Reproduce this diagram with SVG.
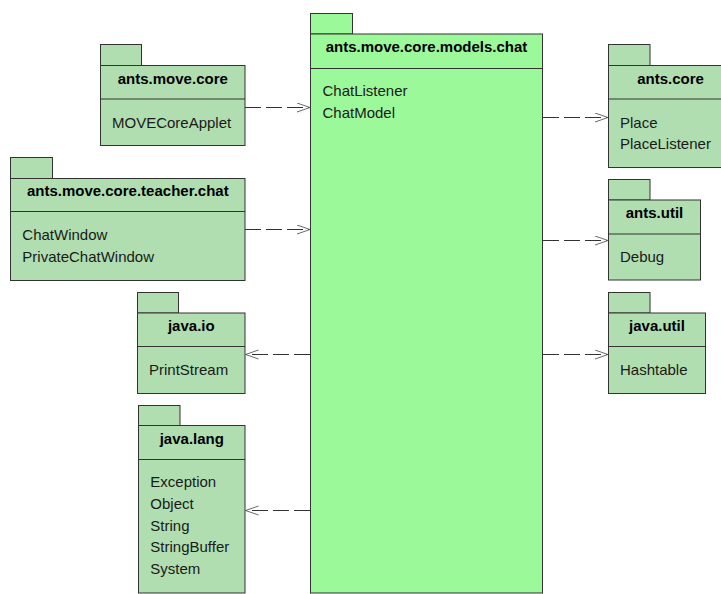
<svg xmlns="http://www.w3.org/2000/svg" width="721" height="594" viewBox="0 0 721 594">
  <style>
    .pkg { fill: #b0deb0; stroke: #333333; stroke-width: 1; }
    .main { fill: #9cf99a; stroke: #333333; stroke-width: 1; }
    .div { stroke: #333333; stroke-width: 1; fill: none; }
    .title { font-family: "Liberation Sans", Arial, sans-serif; font-size: 15px; font-weight: bold; fill: #000000; text-anchor: middle; }
    .item { font-family: "Liberation Sans", Arial, sans-serif; font-size: 15px; fill: #1a1a1a; }
    .dep { stroke: #333333; stroke-width: 1; fill: none; stroke-dasharray: 16 5; }
    .head { stroke: #6a6a6a; stroke-width: 1; fill: none; }
  </style>
  <defs>
    <marker id="open" markerWidth="16" markerHeight="12" refX="13" refY="5" orient="auto" markerUnits="userSpaceOnUse">
      <path class="head" d="M0,0.5 L13,5 L0,9.5"/>
    </marker>
  </defs>
  <rect width="721" height="594" fill="#ffffff"/>

  <!-- central package -->
  <g id="pkg-models-chat">
    <rect class="main" x="310.5" y="13.5" width="42" height="20.5"/>
    <rect class="main" x="310.5" y="34" width="232" height="559"/>
    <line class="div" x1="310.5" y1="68.5" x2="542.5" y2="68.5"/>
    <text class="title" x="426.5" y="52">ants.move.core.models.chat</text>
    <text class="item" x="322.5" y="96">ChatListener</text>
    <text class="item" x="322.5" y="117.7">ChatModel</text>
  </g>

  <g id="pkg-move-core">
    <rect class="pkg" x="100.5" y="44.5" width="41" height="21"/>
    <rect class="pkg" x="100.5" y="65.5" width="144.5" height="80"/>
    <line class="div" x1="100.5" y1="99" x2="245" y2="99"/>
    <text class="title" x="172.8" y="83.5">ants.move.core</text>
    <text class="item" x="112" y="127.7">MOVECoreApplet</text>
  </g>

  <g id="pkg-teacher-chat">
    <rect class="pkg" x="10.5" y="157.5" width="42" height="21"/>
    <rect class="pkg" x="10.5" y="178.5" width="234.5" height="102"/>
    <line class="div" x1="10.5" y1="211.5" x2="245" y2="211.5"/>
    <text class="title" x="127.8" y="196.3">ants.move.core.teacher.chat</text>
    <text class="item" x="22.3" y="240">ChatWindow</text>
    <text class="item" x="22.3" y="261.7">PrivateChatWindow</text>
  </g>

  <g id="pkg-java-io">
    <rect class="pkg" x="137.5" y="292.5" width="41" height="20.5"/>
    <rect class="pkg" x="137.5" y="313" width="107.5" height="80.5"/>
    <line class="div" x1="137.5" y1="346.5" x2="245" y2="346.5"/>
    <text class="title" x="191.3" y="331">java.io</text>
    <text class="item" x="149" y="374.7">PrintStream</text>
  </g>

  <g id="pkg-java-lang">
    <rect class="pkg" x="138.5" y="405.5" width="41.5" height="20"/>
    <rect class="pkg" x="138.5" y="425.5" width="106.5" height="167.5"/>
    <line class="div" x1="138.5" y1="459.5" x2="245" y2="459.5"/>
    <text class="title" x="191.8" y="443.7">java.lang</text>
    <text class="item" x="150.3" y="487.3">Exception</text>
    <text class="item" x="150.3" y="509">Object</text>
    <text class="item" x="150.3" y="530.7">String</text>
    <text class="item" x="150.3" y="552.3">StringBuffer</text>
    <text class="item" x="150.3" y="574">System</text>
  </g>

  <g id="pkg-ants-core">
    <rect class="pkg" x="608.5" y="44.5" width="41.5" height="21"/>
    <rect class="pkg" x="608.5" y="65.5" width="124" height="102"/>
    <line class="div" x1="608.5" y1="99" x2="732.5" y2="99"/>
    <text class="title" x="670.5" y="83.5">ants.core</text>
    <text class="item" x="620" y="127.7">Place</text>
    <text class="item" x="620" y="149.3">PlaceListener</text>
  </g>

  <g id="pkg-ants-util">
    <rect class="pkg" x="608.5" y="179.5" width="41.5" height="20.5"/>
    <rect class="pkg" x="608.5" y="200" width="92" height="80"/>
    <line class="div" x1="608.5" y1="234" x2="700.5" y2="234"/>
    <text class="title" x="654.5" y="218">ants.util</text>
    <text class="item" x="620" y="262">Debug</text>
  </g>

  <g id="pkg-java-util">
    <rect class="pkg" x="608.5" y="292.5" width="41.5" height="20.5"/>
    <rect class="pkg" x="608.5" y="313" width="97" height="80.5"/>
    <line class="div" x1="608.5" y1="346.5" x2="705.5" y2="346.5"/>
    <text class="title" x="657" y="331">java.util</text>
    <text class="item" x="620" y="374.7">Hashtable</text>
  </g>

  <!-- dependencies -->
  <g id="connectors">
    <path class="dep" d="M245,107.5 H310" marker-end="url(#open)"/>
    <path class="dep" d="M245,229.5 H310" marker-end="url(#open)"/>
    <path class="dep" d="M543,117.5 H608" marker-end="url(#open)"/>
    <path class="dep" d="M543,240.5 H608" marker-end="url(#open)"/>
    <path class="dep" d="M543,354.5 H608" marker-end="url(#open)"/>
    <path class="dep" d="M310,354.5 H245.5" marker-end="url(#open)"/>
    <path class="dep" d="M310,510.5 H245.5" marker-end="url(#open)"/>
  </g>
</svg>
